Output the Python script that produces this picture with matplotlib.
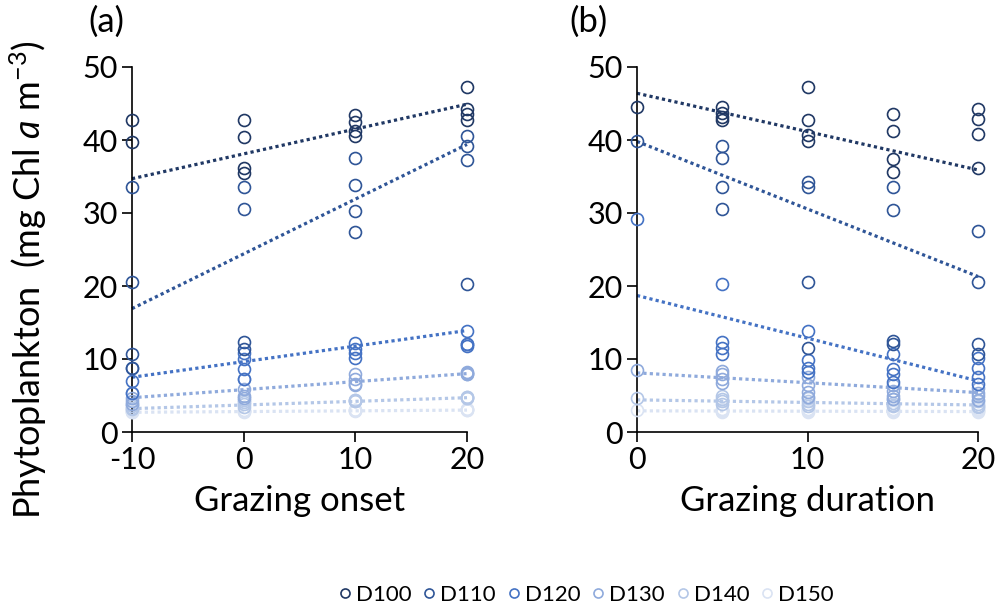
import matplotlib
matplotlib.use('Agg')
import matplotlib.pyplot as plt
from matplotlib.lines import Line2D

plt.rcParams['font.family'] = ['Lato', 'DejaVu Sans']
plt.rcParams['mathtext.fontset'] = 'custom'
plt.rcParams['mathtext.rm'] = 'Lato'
plt.rcParams['mathtext.it'] = 'Lato:italic'
plt.rcParams['axes.unicode_minus'] = False

series = ['D100', 'D110', 'D120', 'D130', 'D140', 'D150']
colors = ['#203864', '#2F5597', '#4472C4', '#8FAADC', '#B4C7E7', '#DAE3F3']

# panel (a): grazing onset, points per onset for each series
onset = [-10, 0, 10, 20]
onset_d100 = [[42.7, 39.7], [42.8, 40.4, 36.1, 35.5], [43.4, 42.5, 41.2, 40.6], [47.2, 44.3, 43.5, 42.8]]
onset_d110 = [[33.5, 20.5, 10.7, 8.8], [33.5, 30.5, 12.3, 11.4], [37.6, 33.9, 30.3, 27.4], [40.5, 39.2, 37.3, 20.3]]
onset_d120 = [[8.8, 7.0, 5.4], [10.8, 10.0, 8.6, 7.3], [12.2, 11.4, 10.8, 10.1], [13.8, 12.0, 11.8, 12.1]]
onset_d130 = [[5.4, 4.6, 4.2, 3.9], [7.3, 5.9, 5.0, 4.6], [7.9, 7.2, 6.6, 6.5], [8.2, 8.0, 7.9, 8.1]]
onset_d140 = [[3.8, 3.5, 3.3, 3.2], [4.4, 4.1, 3.8, 3.4], [4.4, 4.3, 4.2, 4.4], [4.8, 4.7, 4.8, 4.6]]
onset_d150 = [[3.0, 2.9, 2.8, 2.8], [3.0, 2.9, 2.9, 2.8], [3.0, 3.0, 2.9, 3.0], [3.1, 3.0, 3.0, 3.1]]
onset_trend_start = [34.7, 16.9, 7.5, 4.7, 3.2, 2.7]
onset_trend_end = [44.9, 39.4, 13.9, 8.0, 4.7, 3.0]

# panel (b): grazing duration
duration = [0, 5, 10, 15, 20]
dur_d100 = [[44.5], [44.5, 43.7, 43.2, 42.8], [47.3, 42.7, 40.7, 39.8], [43.5, 41.2, 37.4, 35.6], [44.3, 42.9, 40.8, 36.1]]
dur_d110 = [[39.8], [39.2, 37.6, 33.5, 30.5], [34.2, 33.6, 20.6, 11.5], [33.6, 30.4, 12.4, 12.1], [27.5, 20.6, 12.0, 10.7]]
dur_d120 = [[29.2], [20.3, 12.3, 11.5, 10.7], [13.9, 9.9, 8.8, 8.2], [10.7, 8.6, 7.9, 6.9], [10.1, 8.8, 7.5, 6.6]]
dur_d130 = [[8.5], [8.3, 7.9, 7.3, 6.7], [7.5, 6.5, 5.5, 4.8], [6.5, 5.6, 5.0, 4.5], [6.0, 5.4, 5.0, 4.4]]
dur_d140 = [[4.7], [4.9, 4.5, 4.2, 3.9], [4.6, 4.2, 3.8, 3.6], [4.5, 4.0, 3.7, 3.5], [4.3, 3.9, 3.6, 3.4]]
dur_d150 = [[3.0], [3.2, 3.0, 2.9, 2.8], [3.1, 3.0, 2.9, 2.8], [3.1, 3.0, 2.9, 2.8], [3.1, 3.0, 2.9, 2.8]]
dur_trend_start = [46.4, 39.8, 18.7, 8.1, 4.4, 2.9]
dur_trend_end = [35.9, 21.3, 7.0, 5.4, 3.7, 2.8]

onset_pts = [onset_d100, onset_d110, onset_d120, onset_d130, onset_d140, onset_d150]
dur_pts = [dur_d100, dur_d110, dur_d120, dur_d130, dur_d140, dur_d150]

fig = plt.figure(figsize=(9.96, 6.08), dpi=100)
W, H = 996, 608
axa = fig.add_axes([132 / W, 1 - 432 / H, (467 - 132) / W, (432 - 67) / H])
axb = fig.add_axes([637 / W, 1 - 432 / H, (978 - 637) / W, (432 - 67) / H])


def draw(ax, xs, pts, t0, t1):
    # lightest series first so darker ones sit on top
    for i in reversed(range(len(series))):
        for x, ys in zip(xs, pts[i]):
            ax.plot([x] * len(ys), ys, 'o', ms=8.6, mfc='none', mec=colors[i],
                    mew=1.2, clip_on=False, zorder=3)
        ax.plot([xs[0], xs[-1]], [t0[i], t1[i]], color=colors[i], lw=2.3,
                ls=(0, (1, 1)), clip_on=False, zorder=2)
    ax.set_xlim(xs[0], xs[-1])
    ax.set_ylim(0, 50)
    ax.set_yticks([0, 10, 20, 30, 40, 50])
    for s in ['top', 'right']:
        ax.spines[s].set_visible(False)
    for s in ['left', 'bottom']:
        ax.spines[s].set_linewidth(1.2)
    ax.tick_params(direction='out', length=7, width=1.2, labelsize=22, pad=3)


draw(axa, onset, onset_pts, onset_trend_start, onset_trend_end)
draw(axb, duration, dur_pts, dur_trend_start, dur_trend_end)
axa.set_xticks([-10, 0, 10, 20])
axb.set_xticks([0, 10, 20])

axa.set_xlabel('Grazing onset', fontsize=25, labelpad=8)
axb.set_xlabel('Grazing duration', fontsize=25, labelpad=8)
fig.text(28 / W, 1 - 280 / H, 'Phytoplankton  (mg Chl $\\it{a}$ m$^{-3}$)', fontsize=26,
         rotation=90, ha='center', va='center')

fig.text(106 / W, 1 - 22 / H, '(a)', fontsize=25, ha='center', va='center')
fig.text(588 / W, 1 - 22 / H, '(b)', fontsize=25, ha='center', va='center')

handles = [Line2D([], [], ls='none', marker='o', ms=6.5, mfc='none', mec=c, mew=1.2)
           for c in colors]
fig.legend(handles, series, loc='center', bbox_to_anchor=(586 / W, 1 - 595 / H),
           ncol=6, frameon=False, fontsize=16, handlelength=0.6, handletextpad=0.2,
           columnspacing=0.5)

fig.savefig('out.png', dpi=100)
